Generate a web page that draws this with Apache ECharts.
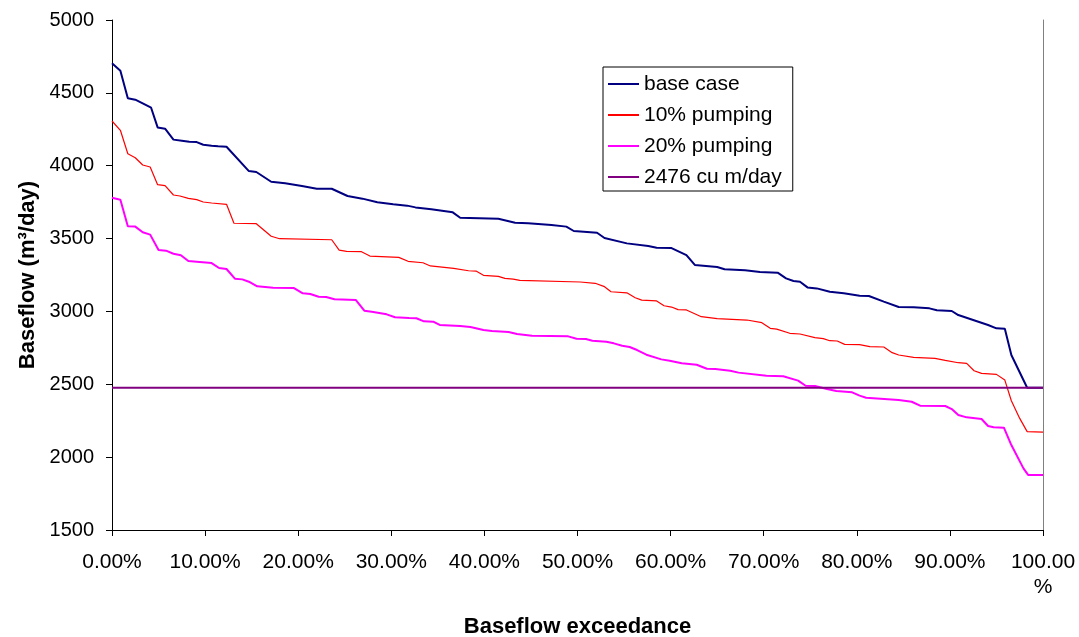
<!DOCTYPE html>
<html>
<head>
<meta charset="utf-8">
<script src="https://cdn.jsdelivr.net/npm/echarts@6/dist/echarts.min.js"></script>
<style>
  html, body { margin: 0; padding: 0; background: #fff; }
  #chart { width: 1079px; height: 637px; }
</style>
</head>
<body>
<div id="chart"></div>
<script>
// exceedance (%) , baseflow (m3/day)
var baseCase = [
  [0, 4703], [0.9, 4652], [1.7, 4463], [2.5, 4453], [3.3, 4428], [4.2, 4398], [4.9, 4263], [5.7, 4254],
  [6.6, 4179], [7.5, 4172], [8.3, 4165], [9.1, 4162], [9.8, 4144], [10.7, 4137], [11.4, 4133], [12.3, 4130],
  [14.7, 3963], [15.5, 3957], [17.1, 3890], [18.6, 3879], [20.4, 3861], [22.0, 3842], [23.6, 3842], [25.3, 3792],
  [26.9, 3774], [28.5, 3749], [30.2, 3735], [31.7, 3726], [32.6, 3714], [34.3, 3701], [36.6, 3680], [37.4, 3643],
  [41.5, 3636], [43.3, 3609], [44.7, 3605], [47.2, 3593], [48.8, 3582], [49.6, 3552], [52.1, 3540], [52.9, 3504],
  [55.3, 3467], [57.6, 3449], [58.5, 3437], [60.1, 3435], [61.7, 3387], [62.6, 3319], [65.0, 3305], [65.8, 3289],
  [68.0, 3282], [69.6, 3271], [71.5, 3266], [72.4, 3227], [73.2, 3209], [73.9, 3204], [74.7, 3165], [75.7, 3158],
  [77.1, 3135], [78.6, 3124], [80.3, 3108], [81.3, 3106], [82.9, 3067], [84.5, 3030], [86.1, 3028], [87.8, 3021],
  [88.6, 3008], [90.2, 3003], [90.9, 2975], [92.5, 2941], [94.1, 2907], [95.0, 2884], [95.9, 2881], [96.6, 2701],
  [98.3, 2476], [100, 2476]
];
var pumping10 = [
  [0, 4307], [0.9, 4243], [1.7, 4082], [2.5, 4055], [3.3, 4005], [4.1, 3991], [4.9, 3870], [5.7, 3863],
  [6.6, 3799], [7.3, 3792], [8.2, 3776], [9.1, 3767], [9.8, 3751], [10.7, 3744], [12.3, 3735], [13.1, 3605],
  [15.5, 3602], [17.1, 3516], [18.0, 3499], [23.6, 3492], [24.4, 3421], [25.2, 3412], [26.8, 3410], [27.7, 3380],
  [30.8, 3371], [31.8, 3344], [33.4, 3334], [34.2, 3312], [36.7, 3296], [38.3, 3279], [39.1, 3277], [39.9, 3248],
  [41.5, 3241], [42.2, 3227], [43.1, 3222], [43.8, 3213], [50.3, 3202], [51.9, 3193], [52.9, 3170], [53.6, 3135],
  [55.3, 3128], [56.2, 3094], [56.9, 3078], [58.5, 3072], [59.3, 3039], [60.1, 3030], [60.8, 3012], [61.7, 3010],
  [63.3, 2964], [65.0, 2950], [68.2, 2941], [69.8, 2923], [70.7, 2884], [71.4, 2879], [72.8, 2850], [73.9, 2845],
  [75.5, 2820], [76.4, 2813], [77.1, 2799], [77.9, 2797], [78.7, 2774], [80.3, 2772], [81.4, 2758], [82.9, 2756],
  [83.8, 2717], [84.5, 2701], [86.1, 2685], [88.4, 2678], [89.5, 2664], [90.9, 2648], [91.8, 2644], [92.6, 2593],
  [93.4, 2575], [95.0, 2568], [95.9, 2529], [96.6, 2387], [97.5, 2266], [98.3, 2175], [100, 2172]
];
var pumping20 = [
  [0, 3780], [0.9, 3767], [1.7, 3584], [2.5, 3582], [3.3, 3543], [4.1, 3527], [5.0, 3421], [5.8, 3417],
  [6.6, 3396], [7.4, 3385], [8.2, 3346], [9.1, 3341], [10.7, 3332], [11.5, 3298], [12.3, 3291], [13.2, 3225],
  [14.0, 3220], [14.7, 3204], [15.6, 3172], [17.3, 3163], [19.5, 3161], [20.5, 3124], [21.3, 3120], [22.2, 3101],
  [23.0, 3099], [23.9, 3083], [26.2, 3078], [27.1, 3005], [27.9, 2998], [29.5, 2980], [30.4, 2960], [31.9, 2955],
  [32.7, 2953], [33.5, 2932], [34.5, 2930], [35.2, 2907], [37.4, 2900], [38.5, 2893], [39.9, 2872], [40.8, 2866],
  [42.6, 2859], [43.5, 2845], [45.1, 2833], [49.0, 2829], [49.9, 2813], [50.9, 2811], [51.6, 2799], [53.1, 2792],
  [53.9, 2781], [54.8, 2765], [55.6, 2756], [56.4, 2735], [57.4, 2703], [59.0, 2671], [59.9, 2662], [61.2, 2644],
  [62.8, 2634], [63.9, 2607], [64.8, 2605], [66.4, 2593], [67.3, 2580], [70.3, 2559], [72.1, 2555], [73.7, 2525],
  [74.5, 2490], [75.5, 2488], [76.8, 2468], [77.8, 2454], [79.5, 2445], [80.3, 2422], [81.0, 2408], [84.5, 2392],
  [85.9, 2380], [86.8, 2353], [89.5, 2351], [90.2, 2330], [90.9, 2289], [91.8, 2273], [93.4, 2262], [94.1, 2214],
  [94.7, 2205], [95.8, 2202], [96.6, 2083], [97.9, 1923], [98.4, 1878], [100, 1878]
];
var threshold = [[0, 2476], [100, 2476]];

var seriesNames = ['base case', '10% pumping', '20% pumping', '2476 cu m/day'];
var font = "Arial, 'Liberation Sans', sans-serif";

var myChart = echarts.init(document.getElementById('chart'));

function lineSeries(name, data, color, width) {
  return {
    name: name,
    type: 'line',
    data: data,
    symbol: 'none',
    lineStyle: { color: color, width: width },
    itemStyle: { color: color },
    animation: false
  };
}

var option = {
  backgroundColor: '#fff',
  textStyle: { fontFamily: font, color: '#000' },
  grid: { left: 112, right: 36, top: 20, bottom: 107, outerBoundsMode: 'none', containLabel: false },
  legend: {
    orient: 'vertical',
    left: 603,
    top: 67,
    padding: [5, 11, 2, 5],
    icon: 'rect',
    itemWidth: 31,
    itemHeight: 2,
    itemGap: 7,
    borderColor: '#000',
    borderWidth: 1,
    backgroundColor: '#fff',
    textStyle: { fontFamily: font, fontSize: 21, lineHeight: 24, color: '#000' },
    data: seriesNames
  },
  xAxis: {
    type: 'value',
    min: 0,
    max: 100,
    interval: 10,
    name: 'Baseflow exceedance',
    nameLocation: 'middle',
    nameGap: 86,
    nameTextStyle: { fontFamily: font, fontSize: 22, fontWeight: 'bold', color: '#000' },
    axisLine: { lineStyle: { color: '#000', width: 1 } },
    axisTick: { show: true, length: 6, inside: false, lineStyle: { color: '#000' } },
    splitLine: { show: false },
    axisLabel: {
      margin: 20,
      fontSize: 21,
      lineHeight: 25,
      color: '#000',
      fontFamily: font,
      formatter: function (v) {
        if (v === 100) return '100.00\n%';
        return v.toFixed(2) + '%';
      }
    }
  },
  yAxis: [{
    type: 'value',
    min: 1500,
    max: 5000,
    interval: 500,
    name: 'Baseflow (m³/day)',
    nameLocation: 'middle',
    nameGap: 68,
    nameTextStyle: { fontFamily: font, fontSize: 22, fontWeight: 'bold', color: '#000' },
    axisLine: { show: true, lineStyle: { color: '#000', width: 1 } },
    axisTick: { show: true, length: 6, lineStyle: { color: '#000' } },
    splitLine: { show: false },
    axisLabel: {
      margin: 18, fontSize: 20, color: '#000', fontFamily: font,
      formatter: function (v) { return String(v); }
    }
  }, {
    type: 'value',
    position: 'right',
    min: 1500,
    max: 5000,
    interval: 500,
    axisLine: { show: true, lineStyle: { color: '#808080', width: 1 } },
    axisTick: { show: false },
    axisLabel: { show: false },
    splitLine: { show: false }
  }],
  series: [
    lineSeries(seriesNames[0], baseCase, '#000080', 2),
    lineSeries(seriesNames[1], pumping10, '#FF0000', 1.2),
    lineSeries(seriesNames[2], pumping20, '#FF00FF', 2),
    lineSeries(seriesNames[3], threshold, '#800080', 2)
  ]
};

myChart.setOption(option);
</script>
</body>
</html>
